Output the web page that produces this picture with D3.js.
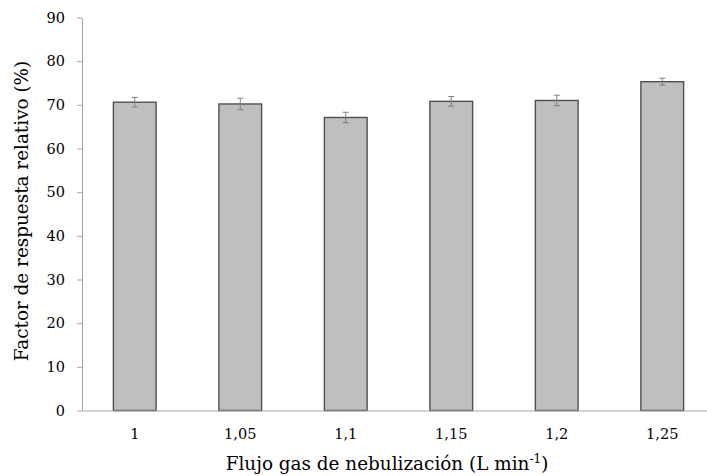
<!DOCTYPE html>
<html><head><meta charset="utf-8">
<script src="https://cdn.jsdelivr.net/npm/d3@7"></script>
<style>body{margin:0;background:#fff}svg{display:block}</style>
</head><body>
<svg id="c" width="707" height="476"></svg>
<script>
const categories = ["1","1,05","1,1","1,15","1,2","1,25"];
const values = [70.6, 70.2, 67.1, 70.8, 71.0, 75.3];
const errors = [1.1, 1.3, 1.2, 1.1, 1.2, 0.8];
const yTicks = [0,10,20,30,40,50,60,70,80,90];

const svg = d3.select("#c");
const font = "'DejaVu Serif', serif";
const x = d3.scaleBand().domain(categories).range([82, 715]).paddingInner(0.595).paddingOuter(0.2975);
const y = d3.scaleLinear().domain([0, 90]).range([410.5, 17.5]);

// y axis
const ya = svg.append("g").attr("transform","translate(82,0)")
  .call(d3.axisLeft(y).tickValues(yTicks).tickSize(5).tickPadding(12).tickSizeOuter(0));
ya.select(".domain").attr("stroke","#a6a6a6");
ya.selectAll(".tick line").attr("stroke","#a6a6a6");
ya.selectAll(".tick text").attr("font-family",font).attr("font-size",14.5).attr("fill","#000");

// bars
svg.append("g").selectAll("rect").data(categories).join("rect")
  .attr("x", d=>x(d)).attr("width", x.bandwidth())
  .attr("y", (d,i)=>y(values[i])).attr("height",(d,i)=>y(0)-y(values[i]))
  .attr("fill","#bfbfbf").attr("stroke","#505050").attr("stroke-width",1.4);

// x axis
const xa = svg.append("g").attr("transform",`translate(0,${y(0)})`)
  .call(d3.axisBottom(x).tickSize(0).tickPadding(18));
xa.select(".domain").attr("stroke","#a6a6a6");
xa.selectAll(".tick text").attr("font-family",font).attr("font-size",14.5).attr("fill","#000");

// error bars
const eg = svg.append("g").attr("stroke","#808080").attr("stroke-width",1);
categories.forEach((c,i)=>{
  const cx = x(c)+x.bandwidth()/2;
  const y1 = y(values[i]+errors[i]), y2 = y(values[i]-errors[i]);
  eg.append("line").attr("x1",cx).attr("x2",cx).attr("y1",y1).attr("y2",y2);
  eg.append("line").attr("x1",cx-3).attr("x2",cx+3).attr("y1",y1).attr("y2",y1);
  eg.append("line").attr("x1",cx-3).attr("x2",cx+3).attr("y1",y2).attr("y2",y2);
});

// titles
const xt = svg.append("text").attr("x",387).attr("y",470).attr("text-anchor","middle")
  .attr("font-family",font).attr("font-size",18.4).attr("fill","#000");
xt.append("tspan").text("Flujo gas de nebulización (L min");
xt.append("tspan").attr("dy",-7).attr("font-size",12).text("-1");
xt.append("tspan").attr("dy",7).text(")");

svg.append("text").attr("transform","translate(28,211) rotate(-90)").attr("text-anchor","middle")
  .attr("font-family",font).attr("font-size",18.4).attr("fill","#000")
  .text("Factor de respuesta relativo (%)");
</script>
</body></html>
